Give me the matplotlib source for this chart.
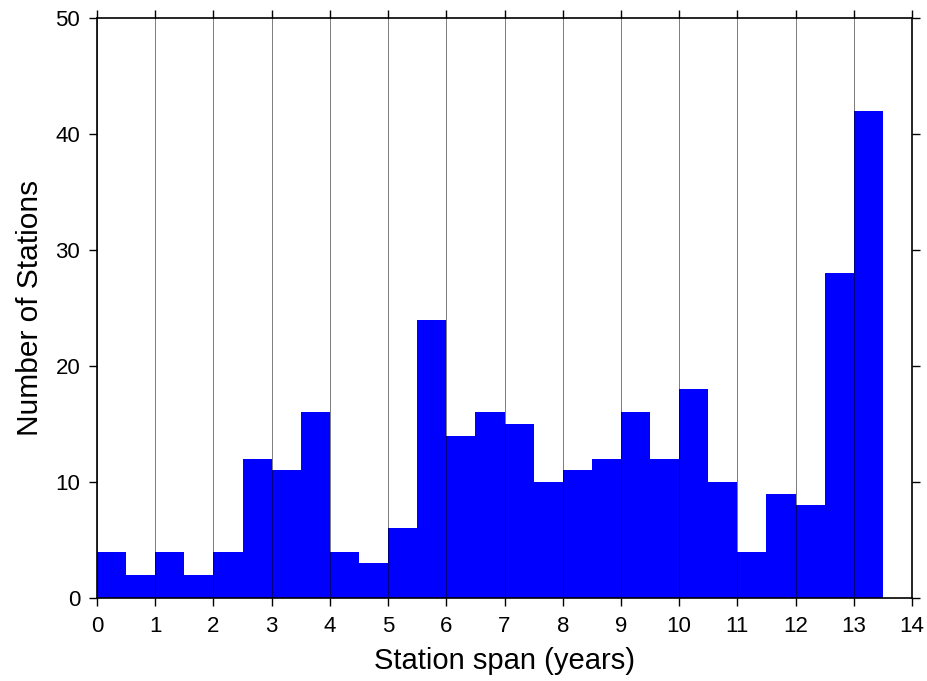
import matplotlib
matplotlib.use("Agg")
import matplotlib.pyplot as plt
import numpy as np

# Histogram of station spans, 0.5-year bins
bin_edges = np.arange(0, 14.0, 0.5)
counts = [4, 2, 4, 2, 4, 12, 11, 16, 4, 3, 6, 24, 14, 16, 15, 10,
          11, 12, 16, 12, 18, 10, 4, 9, 8, 28, 42]
x_ticks = list(range(0, 15))
y_ticks = [0, 10, 20, 30, 40, 50]

plt.rcParams['font.family'] = ['Liberation Sans', 'DejaVu Sans']

fig = plt.figure(figsize=(9.28, 6.81), dpi=100)
ax = fig.add_axes([0.1045, 0.1219, 0.8783, 0.8517])

ax.bar(bin_edges[:-1], counts, width=0.5, align='edge', color='#0000ff',
       edgecolor='none', zorder=1)

ax.set_xlim(0, 14)
ax.set_ylim(0, 50)
ax.set_xticks(x_ticks)
ax.set_yticks(y_ticks)

# vertical grid lines on top of the bars
ax.grid(axis='x', color='black', linewidth=0.6, alpha=0.6, zorder=2)
ax.set_axisbelow(False)

ax.tick_params(direction='out', length=6, width=1, labelsize=16,
               top=True, right=True, pad=6)
ax.tick_params(axis='x', pad=7)
for s in ax.spines.values():
    s.set_linewidth(1.2)
    s.set_zorder(3)

ax.set_xlabel("Station span (years)", fontsize=21, labelpad=7)
ax.set_ylabel("Number of Stations", fontsize=21.5, labelpad=8)

fig.savefig("out.png", dpi=100)
